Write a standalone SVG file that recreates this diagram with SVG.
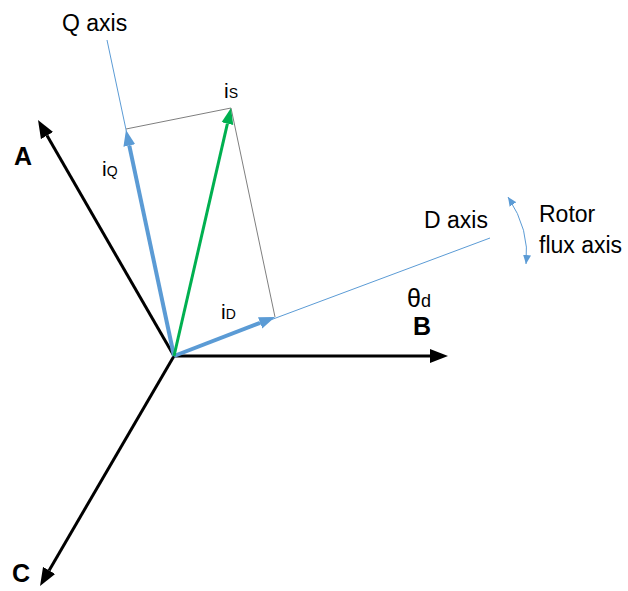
<svg xmlns="http://www.w3.org/2000/svg" width="628" height="591" viewBox="0 0 628 591">
<style>
text{font-family:"Liberation Sans",Arial,sans-serif;fill:#000}
.lbl{font-size:23px}
.big{font-size:25px;font-weight:bold}
.sub{font-size:14px}
.ax{stroke:#000;stroke-width:3;fill:none}
.vb{stroke:#5B9BD5;stroke-width:4;fill:none}
.vg{stroke:#00B050;stroke-width:3;fill:none}
.thin{stroke:#5B9BD5;stroke-width:1;fill:none}
.gray{stroke:#7F7F7F;stroke-width:1;fill:none}
</style>
<defs>
<marker id="ak" markerUnits="userSpaceOnUse" markerWidth="20" markerHeight="16" viewBox="0 -8 20 16" refX="0" refY="0" orient="auto"><path d="M0,-7 L18,0 L0,7 z" fill="#000"/></marker>
<marker id="ab" markerUnits="userSpaceOnUse" markerWidth="18" markerHeight="14" viewBox="0 -7 18 14" refX="0" refY="0" orient="auto"><path d="M0,-6 L16,0 L0,6 z" fill="#5B9BD5"/></marker>
<marker id="ag" markerUnits="userSpaceOnUse" markerWidth="18" markerHeight="14" viewBox="0 -7 18 14" refX="0" refY="0" orient="auto"><path d="M0,-6 L16,0 L0,6 z" fill="#00B050"/></marker>
<marker id="as" markerUnits="userSpaceOnUse" markerWidth="10" markerHeight="10" viewBox="0 -5 10 10" refX="9" refY="0" orient="auto-start-reverse"><path d="M0,-4 L9,0 L0,4 z" fill="#5B9BD5"/></marker>
</defs>
<g id="connectors">
<line class="thin" x1="174" y1="356" x2="107" y2="40"/>
<line class="thin" x1="174" y1="356" x2="490" y2="238"/>
<line class="gray" x1="126" y1="129" x2="231" y2="108"/>
<line class="gray" x1="231" y1="108" x2="275" y2="317"/>
<line id="axisB" class="ax" x1="174" y1="356" x2="430" y2="356" marker-end="url(#ak)"/>
<line id="axisA" class="ax" x1="174" y1="356" x2="47" y2="135.6" marker-end="url(#ak)"/>
<line id="axisC" class="ax" x1="174" y1="356" x2="49.1" y2="570.4" marker-end="url(#ak)"/>
<line id="vecQ" class="vb" x1="174" y1="356" x2="129.3" y2="145.6" marker-end="url(#ab)"/>
<line id="vecD" class="vb" x1="174" y1="356" x2="260.1" y2="322.8" marker-end="url(#ab)"/>
<line id="vecS" class="vg" x1="174" y1="356" x2="227.4" y2="123.6" marker-end="url(#ag)"/>
<path id="rotorArc" class="thin" d="M508,197 Q530,230 526,264" marker-start="url(#as)" marker-end="url(#as)"/>
</g>
<g id="labels">
<text class="lbl" x="62" y="31">Q axis</text>
<text class="lbl" x="424" y="228">D axis</text>
<text class="lbl" x="539" y="222">Rotor</text>
<text class="lbl" x="539" y="253">flux axis</text>
<text class="big" x="14" y="165">A</text>
<text class="big" x="413" y="335">B</text>
<text class="big" x="12" y="582">C</text>
<text x="407" y="307"><tspan style="font-size:25px">θ</tspan><tspan style="font-size:18px">d</tspan></text>
<text x="224" y="98"><tspan style="font-size:21px">i</tspan><tspan class="sub">S</tspan></text>
<text x="102" y="176"><tspan style="font-size:21px">i</tspan><tspan class="sub">Q</tspan></text>
<text x="221" y="319"><tspan style="font-size:21px">i</tspan><tspan class="sub">D</tspan></text>
</g>
</svg>
